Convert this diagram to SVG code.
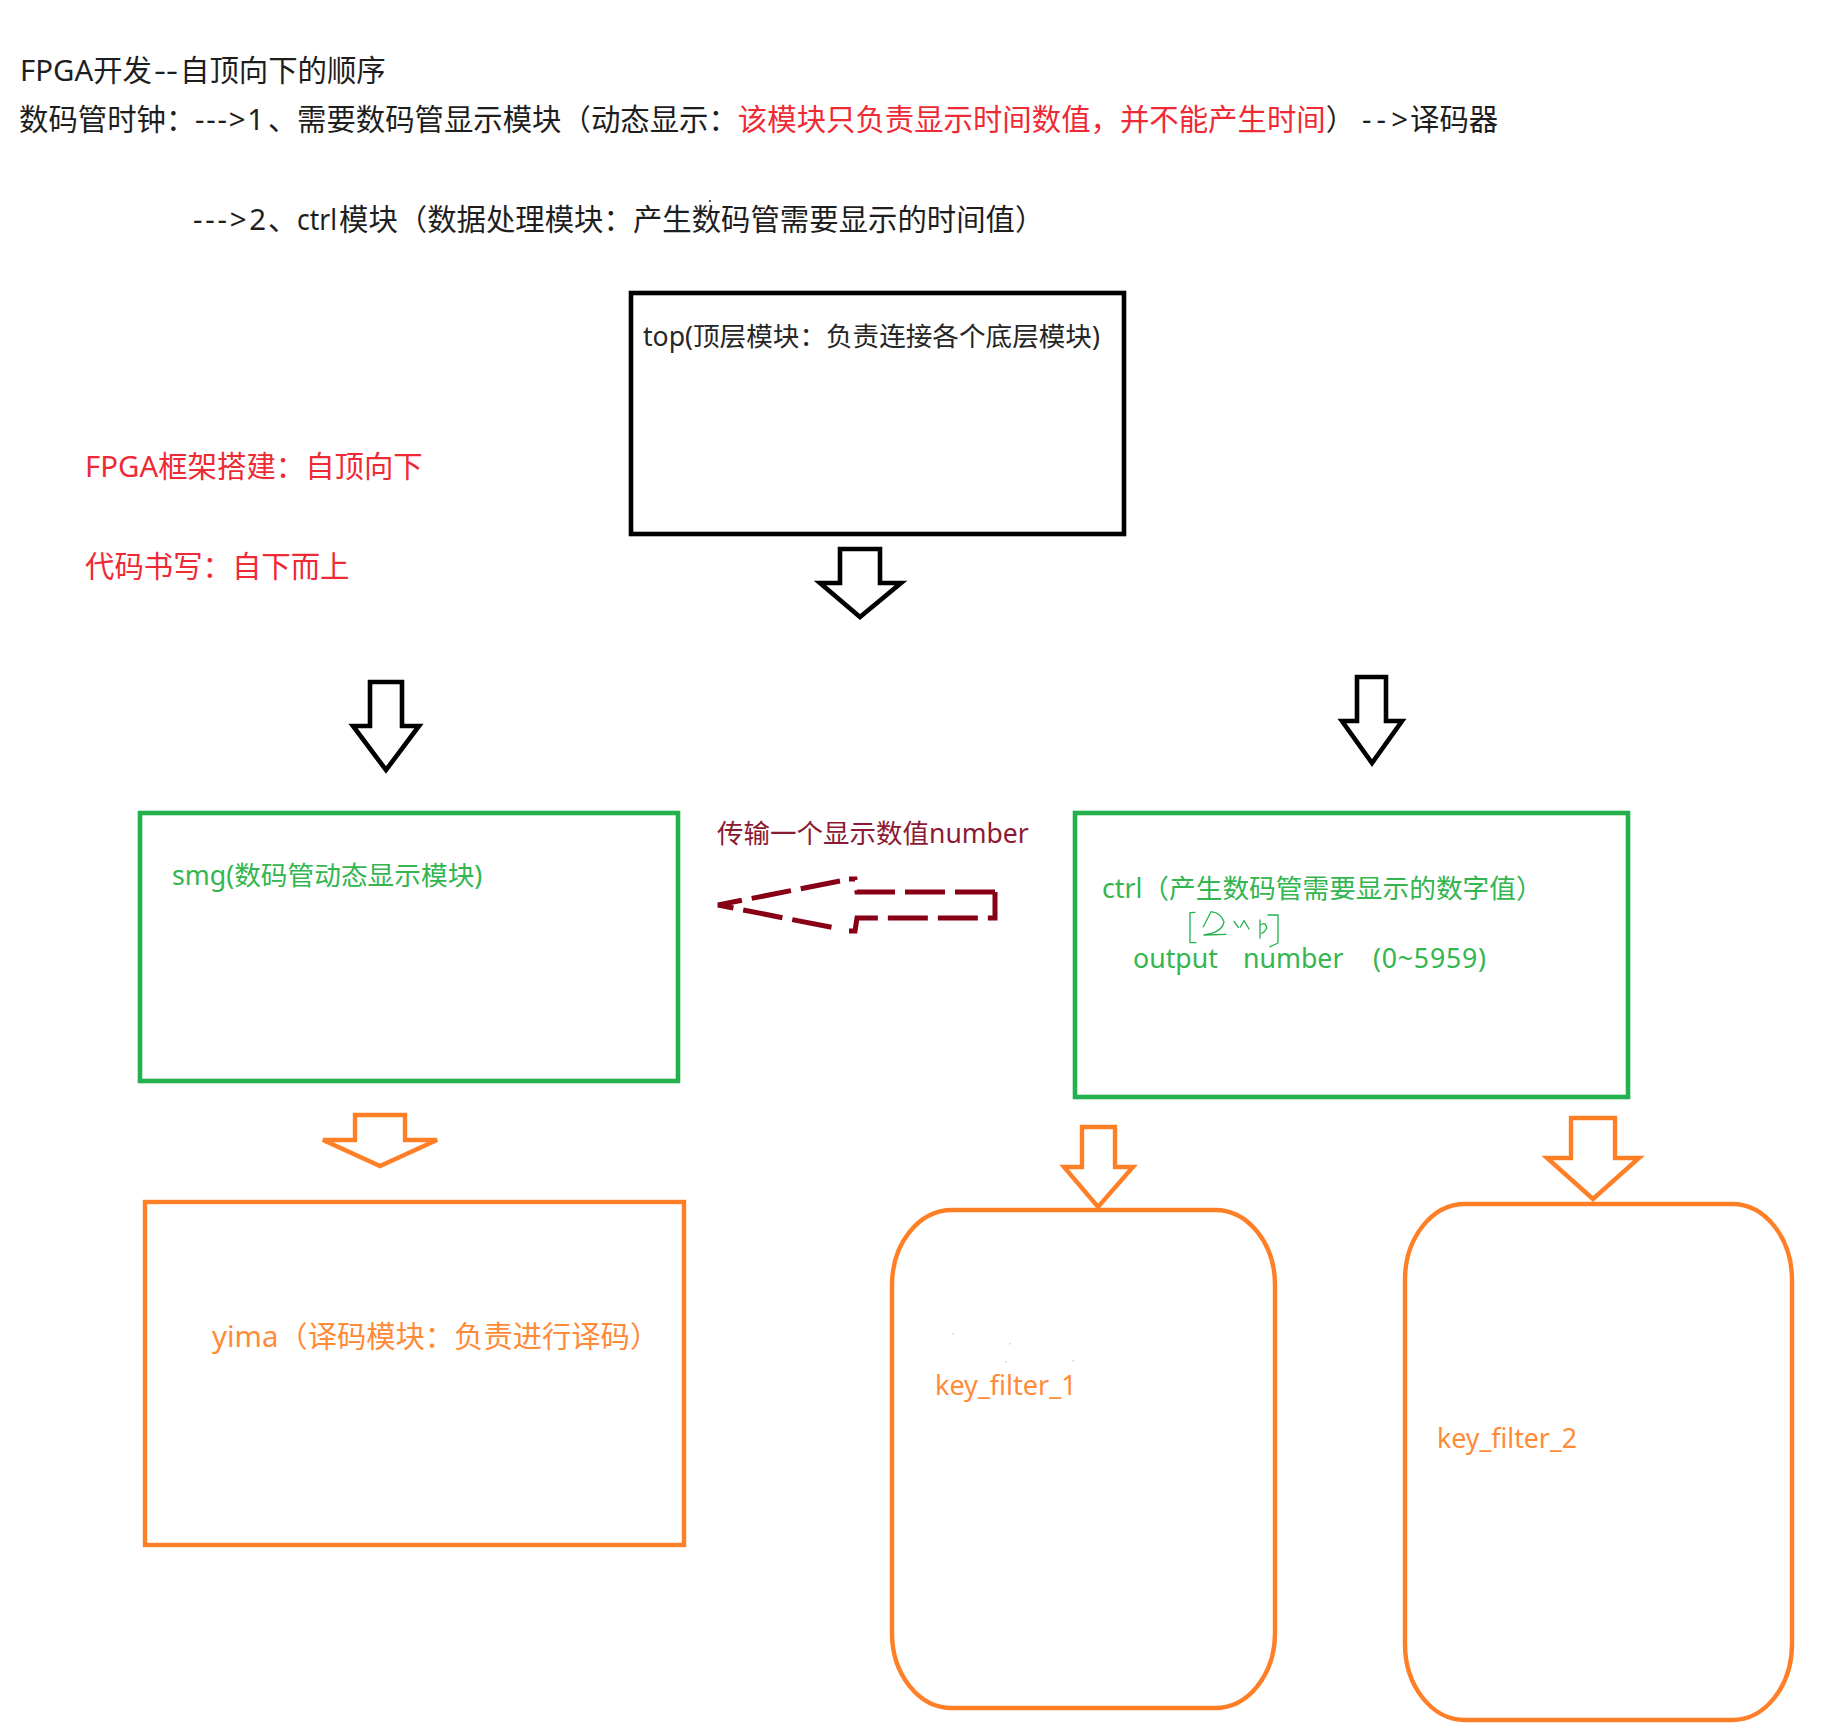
<svg xmlns="http://www.w3.org/2000/svg" width="1821" height="1728" viewBox="0 0 1821 1728">
<style>
text{font-family:'Noto Sans','Noto Sans CJK SC',sans-serif;}
.hd{font-size:29.4px;fill:#1e1e1e;}
.red{fill:#ee2a34;}
.blk{fill:none;stroke:#000;stroke-width:4.6;stroke-linejoin:miter;}
.grn{fill:none;stroke:#22b14c;stroke-width:4.6;}
.org{fill:none;stroke:#ff7f27;stroke-width:4.4;stroke-linejoin:miter;}
.gt{font-size:26.7px;fill:#33b550;}
.ot{fill:#ff8a38;}
.scr{fill:none;stroke:#22b14c;stroke-width:1.3;stroke-linecap:round;stroke-linejoin:round;}
</style>
<rect width="1821" height="1728" fill="#fff"/>

<g id="notes">
  <text class="hd" y="81"><tspan x="20">FPGA开发</tspan><tspan x="154" textLength="24" lengthAdjust="spacingAndGlyphs">--</tspan><tspan x="180">自顶向下的顺序</tspan></text>
  <text class="hd" y="130"><tspan x="19">数码管时钟：</tspan><tspan x="195" textLength="69" lengthAdjust="spacing">---&gt;1</tspan><tspan x="268">、</tspan><tspan x="297">需要数码管显示模块（动态显示：</tspan><tspan class="red">该模块只负责显示时间数值，并不能产生时间</tspan><tspan>）</tspan><tspan x="1362" textLength="46" lengthAdjust="spacing">--&gt;</tspan><tspan x="1410">译码器</tspan></text>
  <text class="hd" y="230"><tspan x="193" textLength="73" lengthAdjust="spacing">---&gt;2</tspan><tspan x="268">、</tspan><tspan x="297" textLength="40" lengthAdjust="spacingAndGlyphs">ctrl</tspan><tspan x="339">模块（数据处理模块：产生数码管需要显示的时间值）</tspan></text>
  <rect x="709" y="200" width="2" height="2" fill="#555"/>
  <text class="hd red" x="85" y="477">FPGA框架搭建：自顶向下</text>
  <text class="hd red" x="85" y="577">代码书写：自下而上</text>
</g>

<g id="top">
  <rect class="blk" x="631" y="293" width="493" height="241"/>
  <text x="643" y="346" font-size="26.6" fill="#262626">top(顶层模块：负责连接各个底层模块)</text>
</g>

<g id="smg">
  <rect class="grn" x="140" y="813" width="538" height="268"/>
  <text class="gt" x="172" y="885">smg(数码管动态显示模块)</text>
</g>

<g id="ctrl">
  <rect class="grn" x="1075" y="813" width="553" height="284"/>
  <text class="gt" x="1102" y="898">ctrl（产生数码管需要显示的数字值）</text>
  <text class="gt" y="968"><tspan x="1133">output</tspan><tspan x="1243">number</tspan><tspan x="1373" textLength="113" lengthAdjust="spacing">(0~5959)</tspan></text>
  <g id="scribble">
    <path class="scr" d="M1195 912.3 L1190 912.7 L1190 942.7 L1196 942.7"/>
    <path class="scr" d="M1203.3 926.7 L1211 911.7 Q1221 913 1224 921.7 Q1223 930 1211.7 933.3 L1204 935 L1226 934.3"/>
    <path class="scr" d="M1234 921.5 L1238.5 927.5"/>
    <path class="scr" d="M1240.5 927 L1244 920.5 L1249 929"/>
    <path class="scr" d="M1260 920 L1260 938 M1260 925 Q1266 921 1266.7 928.3 Q1265 932 1261.7 933.3"/>
    <path class="scr" d="M1268 915 L1278 915 L1278 943 L1270 946.7"/>
  </g>
</g>

<g id="yima">
  <rect class="org" x="145" y="1202" width="539" height="343"/>
  <text class="ot" x="212" y="1347" font-size="29.3">yima（译码模块：负责进行译码）</text>
</g>

<g id="key_filter_1">
  <rect class="org" x="892" y="1210" width="383" height="498" rx="60" ry="75"/>
  <text class="ot" x="935" y="1395" font-size="27">key_filter_1</text>
  <g fill="#ffd2b4">
    <rect x="952" y="1333" width="2" height="1.5"/>
    <rect x="1009" y="1343" width="2" height="1.5"/>
    <rect x="1005" y="1361" width="2" height="1.5"/>
    <rect x="1072" y="1360" width="2" height="1.5"/>
  </g>
</g>

<g id="key_filter_2">
  <rect class="org" x="1405" y="1204" width="387" height="516" rx="60" ry="76"/>
  <text class="ot" x="1437" y="1448" font-size="26.7">key_filter_2</text>
</g>

<g id="connectors">
  <path class="blk" d="M840 549 L880 549 L880 583 L901 583 L860 617 L820 583 L840 583 Z"/>
  <path class="blk" d="M370 682 L402 682 L402 726 L419 726 L386 770 L353 726 L370 726 Z"/>
  <path class="blk" d="M1357 677 L1386 677 L1386 721 L1402 721 L1372 763 L1342 721 L1357 721 Z"/>
  <path class="org" d="M355 1115 L405 1115 L405 1140 L437 1140 L380 1166 L323 1140 L355 1140 Z"/>
  <path class="org" d="M1082 1127 L1115 1127 L1115 1167 L1133 1167 L1098 1207 L1064 1167 L1082 1167 Z"/>
  <path class="org" d="M1571 1118 L1615 1118 L1615 1158 L1639 1158 L1593 1199 L1547 1158 L1571 1158 Z"/>
  <g id="transfer">
    <path d="M995 892 L857 892 L855 879 L849 879 M840 881 L718 905 L840 929 M849 931 L855 931 L857 918 L995 918 L995 892" fill="none" stroke="#880015" stroke-width="5" stroke-dasharray="40 10" stroke-linejoin="miter"/>
    <text x="717" y="843" font-size="26.5" fill="#8c1a33">传输一个显示数值number</text>
  </g>
</g>
</svg>
